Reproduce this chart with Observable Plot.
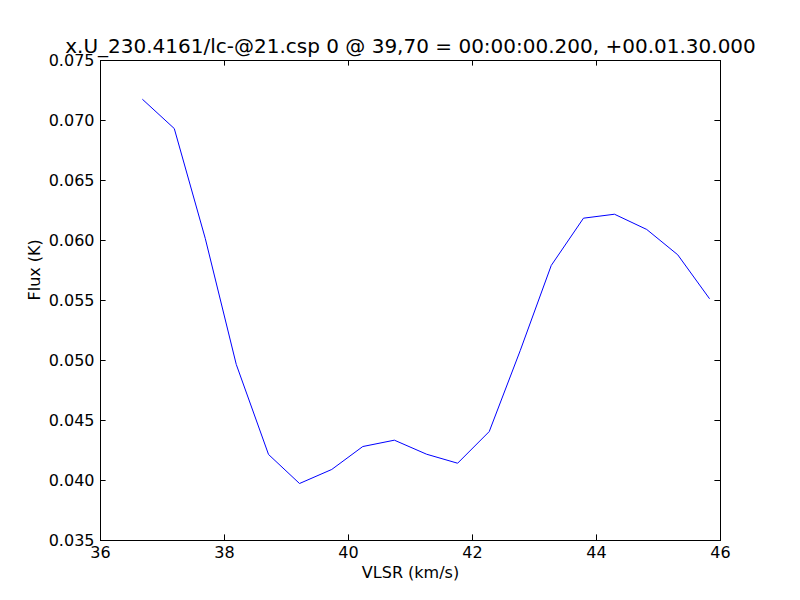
<!DOCTYPE html>
<html>
<head>
<meta charset="utf-8">
<script src="https://cdn.jsdelivr.net/npm/d3@7"></script>
<script src="https://cdn.jsdelivr.net/npm/@observablehq/plot@0.6"></script>
<style>
  body { margin: 0; background: #fff; }
</style>
</head>
<body>
<div id="chart"></div>
<script>
const titleText = "x.U_230.4161/lc-@21.csp 0 @ 39,70 = 00:00:00.200, +00.01.30.000";
const xLabel = "VLSR (km/s)";
const yLabel = "Flux (K)";

const vlsr = [36.68, 37.19, 37.69, 38.19, 38.71, 39.21, 39.73, 40.23, 40.74, 41.26, 41.76, 42.27, 42.77, 43.27, 43.79, 44.29, 44.81, 45.31, 45.82];
const flux = [0.07175, 0.06933, 0.06017, 0.04967, 0.04217, 0.03975, 0.04092, 0.04283, 0.04336, 0.04219, 0.04144, 0.04408, 0.05083, 0.05792, 0.06186, 0.06219, 0.06092, 0.05881, 0.05517];

const xTicks = [36, 38, 40, 42, 44, 46];
const yTicks = [0.035, 0.040, 0.045, 0.050, 0.055, 0.060, 0.065, 0.070, 0.075];
const yTickLabels = ["0.035", "0.040", "0.045", "0.050", "0.055", "0.060", "0.065", "0.070", "0.075"];

const data = vlsr.map((v, i) => ({x: v, y: flux[i]}));

const W = 800, H = 600, mL = 100, mR = 80, mT = 60, mB = 60;
const pw = W - mL - mR, ph = H - mT - mB;
const tickLen = 5.6;

const chart = Plot.plot({
  width: W,
  height: H,
  marginLeft: mL,
  marginRight: mR,
  marginTop: mT,
  marginBottom: mB,
  style: {fontFamily: "DejaVu Sans", fontSize: "16px", background: "#fff", color: "#000", overflow: "visible"},
  x: {domain: [36, 46], label: null},
  y: {domain: [0.035, 0.075], label: null},
  marks: [
    Plot.line(data, {x: "x", y: "y", stroke: "#0000ff", strokeWidth: 1}),
    // inward ticks on all four sides
    Plot.ruleX(xTicks, {x: d => d, insetTop: ph - tickLen, stroke: "#000"}),
    Plot.ruleX(xTicks, {x: d => d, insetBottom: ph - tickLen, stroke: "#000"}),
    Plot.ruleY(yTicks, {y: d => d, insetRight: pw - tickLen, stroke: "#000"}),
    Plot.ruleY(yTicks, {y: d => d, insetLeft: pw - tickLen, stroke: "#000"}),
    Plot.frame({stroke: "#000", strokeWidth: 1}),
    Plot.axisX({ticks: xTicks, tickSize: 0, tickPadding: 6, fontSize: 16, tickFormat: d => String(d), label: null}),
    Plot.axisY({ticks: yTicks, tickSize: 0, tickPadding: 6, fontSize: 16, tickFormat: (d, i) => yTickLabels[i], label: null}),
    Plot.text([xLabel], {text: d => d, frameAnchor: "bottom", lineAnchor: "middle", dy: 32, fontSize: 16, fill: "#000"}),
    Plot.text([yLabel], {text: d => d, frameAnchor: "left", lineAnchor: "middle", dx: -66, rotate: -90, fontSize: 16, fill: "#000"}),
    Plot.text([titleText], {text: d => d, frameAnchor: "top", lineAnchor: "middle", dy: -14, fontSize: 20, fill: "#000"})
  ]
});

document.getElementById("chart").appendChild(chart);
</script>
</body>
</html>
